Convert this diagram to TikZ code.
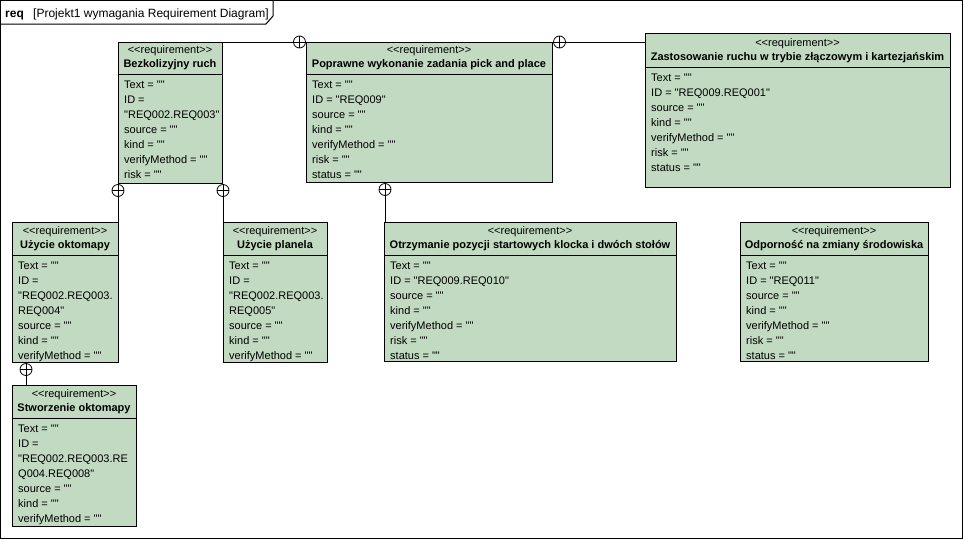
\documentclass[tikz,border=0pt]{standalone}
\usepackage{fontspec}
\newfontfamily\vp{Liberation Sans}
\usetikzlibrary{calc}
\definecolor{reqgreen}{RGB}{193,218,193}
\tikzset{
  reqbox/.style={draw=black, fill=reqgreen, line width=1pt, rectangle, inner sep=0pt, anchor=north west},
  attr/.style={anchor=base west, inner sep=0pt, font=\vp\fontsize{11}{13}\selectfont},
  stereo/.style={anchor=base, inner sep=0pt, font=\vp\fontsize{11}{13}\selectfont},
  rtitle/.style={anchor=base, inner sep=0pt, font=\vp\fontsize{11}{13}\selectfont\bfseries},
  contain/.style={circle, draw=black, fill=white, minimum size=12pt, inner sep=0pt, line width=0.8pt,
    path picture={\draw[line width=0.8pt] (path picture bounding box.north) -- (path picture bounding box.south)
      (path picture bounding box.west) -- (path picture bounding box.east);}},
  conn/.style={draw=black, line width=1pt}
}
% name, x1, y1, x2, y2, divider, title, attribute lines
\newcommand\rqbox[8]{%
  \node[reqbox, minimum width={#4-#2}, minimum height={#5-#3}] (#1) at (#2,#3) {};
  \draw[line width=1pt] (#2,#6) -- (#4,#6);
  \node[stereo] (#1s) at ({(#2+#4)/2},{#6-21}) {<{}<requirement>{}>};
  \node[rtitle] (#1t) at ({(#2+#4)/2},{#6-6.5}) {#7};
  \foreach \t [count=\i from 0] in {#8} {\node[attr] (#1a\i) at ({#2+6},{#6+14+15*\i}) {\t};}
}
\begin{document}
\begin{tikzpicture}[x=1pt,y=-1pt]
\useasboundingbox (0,0) rectangle (963,539);
\fill[white] (0,0) rectangle (963,539);
\draw[line width=1pt] (0.5,0.5) rectangle (962.5,538.5);
\draw[line width=1pt] (0.5,24) -- (266,24) -- (273,16) -- (273,0.5);
\node[anchor=base west, inner sep=0pt, font=\vp\fontsize{12}{14}\selectfont\bfseries] (hdr) at (5,17.5) {req};
\node[anchor=base west, inner sep=0pt, font=\vp\fontsize{12}{14}\selectfont] (hdrt) at (33,17.5) {[Projekt1 wymagania Requirement Diagram]};

\rqbox{b1}{118}{42}{222}{183}{74}{Bezkolizyjny ruch}{Text = "",ID =,"REQ002.REQ003",source = "",kind = "",verifyMethod = "",risk = ""}
\rqbox{b2}{306}{42}{552}{182}{74}{Poprawne wykonanie zadania pick and place}{Text = "",ID = "REQ009",source = "",kind = "",verifyMethod = "",risk = "",status = ""}
\rqbox{b3}{645}{33}{950}{187}{67}{Zastosowanie ruchu w trybie złączowym i kartezjańskim}{Text = "",ID = "REQ009.REQ001",source = "",kind = "",verifyMethod = "",risk = "",status = ""}
\rqbox{b4}{12}{222}{118}{362}{255}{Użycie oktomapy}{Text = "",ID =,"REQ002.REQ003.,REQ004",source = "",kind = "",verifyMethod = ""}
\rqbox{b5}{223}{222}{327}{362}{255}{Użycie planela}{Text = "",ID =,"REQ002.REQ003.,REQ005",source = "",kind = "",verifyMethod = ""}
\rqbox{b6}{384}{222}{676}{361}{255}{Otrzymanie pozycji startowych klocka i dwóch stołów}{Text = "",ID = "REQ009.REQ010",source = "",kind = "",verifyMethod = "",risk = "",status = ""}
\rqbox{b7}{740}{222}{928}{361}{255}{Odporność na zmiany środowiska}{Text = "",ID = "REQ011",source = "",kind = "",verifyMethod = "",risk = "",status = ""}
\rqbox{b8}{12}{385}{136}{526}{418}{Stworzenie oktomapy}{Text = "",ID =,"REQ002.REQ003.RE,Q004.REQ008",source = "",kind = "",verifyMethod = ""}

\node[contain] (c1) at ($(b2.north west)+(-6.5,0)$) {};
\node[contain] (c2) at ($(b2.north east)+(6.5,0)$) {};
\node[contain] (c3) at ($(b2.south west)+(79,6.5)$) {};
\node[contain] (c4) at ($(b1.south west)+(0,6.5)$) {};
\node[contain] (c5) at ($(b1.south east)+(0,6.5)$) {};
\node[contain] (c6) at ($(b4.south west)+(14,6.5)$) {};

\draw[conn] (b1.north east) -- (c1.west);
\draw[conn] (c2.east) -- (c2.east -| b3.west);
\draw[conn] (c3.south) -- (c3.south |- b6.north);
\draw[conn] (c4.south) -- (c4.south |- b4.north);
\draw[conn] (c5.south) -- (c5.south |- b5.north);
\draw[conn] (c6.south) -- (c6.south |- b8.north);
\end{tikzpicture}
\end{document}
